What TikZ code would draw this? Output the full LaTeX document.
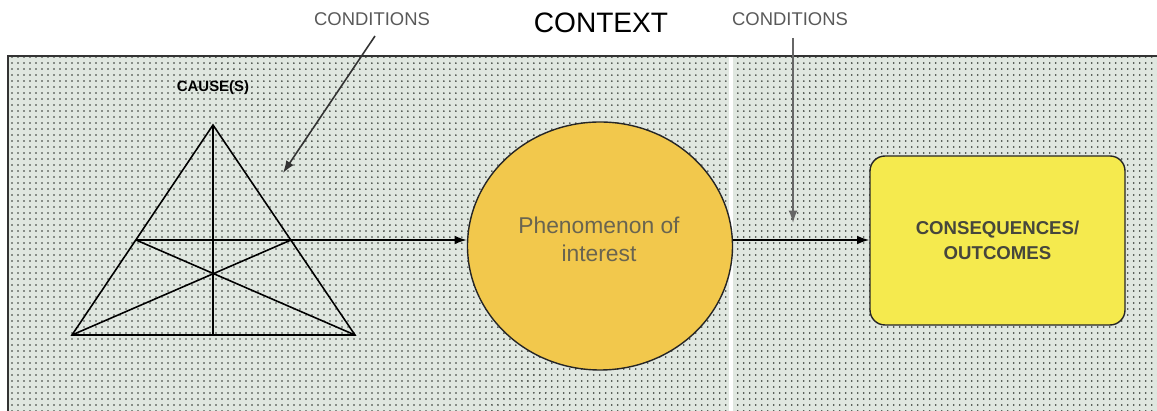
\documentclass[tikz,border=0pt]{standalone}
\usepackage{fontspec}
\setmainfont{Liberation Sans}
\usetikzlibrary{patterns.meta,arrows.meta,calc,shapes.geometric}
\definecolor{bgc}{RGB}{224,231,224}
\definecolor{dotc}{RGB}{45,50,45}
\definecolor{circc}{RGB}{242,200,76}
\definecolor{boxc}{RGB}{245,234,78}
\definecolor{txtc}{RGB}{70,70,60}
\definecolor{ptxt}{RGB}{105,100,80}
\tikzset{
  px/.style={x=0.02cm,y=-0.02cm},
  conn/.style={draw=black,line width=0.9pt,-{Latex[length=7pt,width=5pt]}},
  tri/.style={draw=black,line width=0.9pt},
  lbl/.style={font=\fontsize{10.5}{12}\selectfont,text=black!65},
}
\begin{document}
\begin{tikzpicture}[px]
\useasboundingbox (0,0) rectangle (1157,411);
% background panel
\fill[bgc] (8,56) rectangle (1157,411);
\fill[pattern={Dots[distance=0.12cm,radius=0.5pt]},pattern color=dotc] (8,56) rectangle (1157,411);
\fill[white] (729,56) rectangle (733,411);
\draw[black!80,line width=0.8pt] (8,411) -- (8,56) -- (1157,56);
% titles
\node (ctx) at (601,23) {\fontsize{16}{18}\selectfont CONTEXT};
\node[lbl] (c1) at (372,19) {CONDITIONS};
\node[lbl] (c2) at (790,19) {CONDITIONS};
\node (cause) at (213,88) {\fontsize{8.5}{10}\selectfont\bfseries CAUSE(S)};
% triangle
\coordinate (A) at (213,125);
\coordinate (B) at (72,335);
\coordinate (C) at (355,335);
\coordinate (P) at (136,240);
\coordinate (Q) at (291,240);
\coordinate (D) at (213,335);
\draw[tri] (A) -- (B) -- (C) -- cycle;
\draw[tri] (A) -- (D);
\draw[tri] (P) -- (Q);
\draw[tri] (P) -- (C);
\draw[tri] (Q) -- (B);
% phenomenon
\node[ellipse,draw=black!85,line width=0.8pt,fill=circc,minimum width=265*0.02cm,minimum height=248*0.02cm,inner sep=0pt] (phen) at (600,246) {};
\node[align=center,text=ptxt,font=\fontsize{13}{16}\selectfont] (phentxt) at (599,239) {Phenomenon of\\interest};
% outcomes
\node[draw=black!85,line width=0.8pt,fill=boxc,rounded corners=0.3cm,minimum width=255*0.02cm,minimum height=169*0.02cm,align=center,text=txtc,font=\fontsize{10.6}{14}\selectfont\bfseries] (out) at (997.5,240.5) {CONSEQUENCES/\\OUTCOMES};
% connectors
\draw[conn] (Q) -- (phen.west |- Q);
\draw[conn] (phen.east |- Q) -- (out.west |- Q);
\coordinate (k1) at (375,36);
\coordinate (k1e) at (283,173);
\draw[conn,draw=black!80] (k1) -- (k1e);
\coordinate (k2) at (793,38);
\coordinate (k2e) at (793,223);
\draw[conn,draw=black!60] (k2) -- (k2e);
\end{tikzpicture}
\end{document}
